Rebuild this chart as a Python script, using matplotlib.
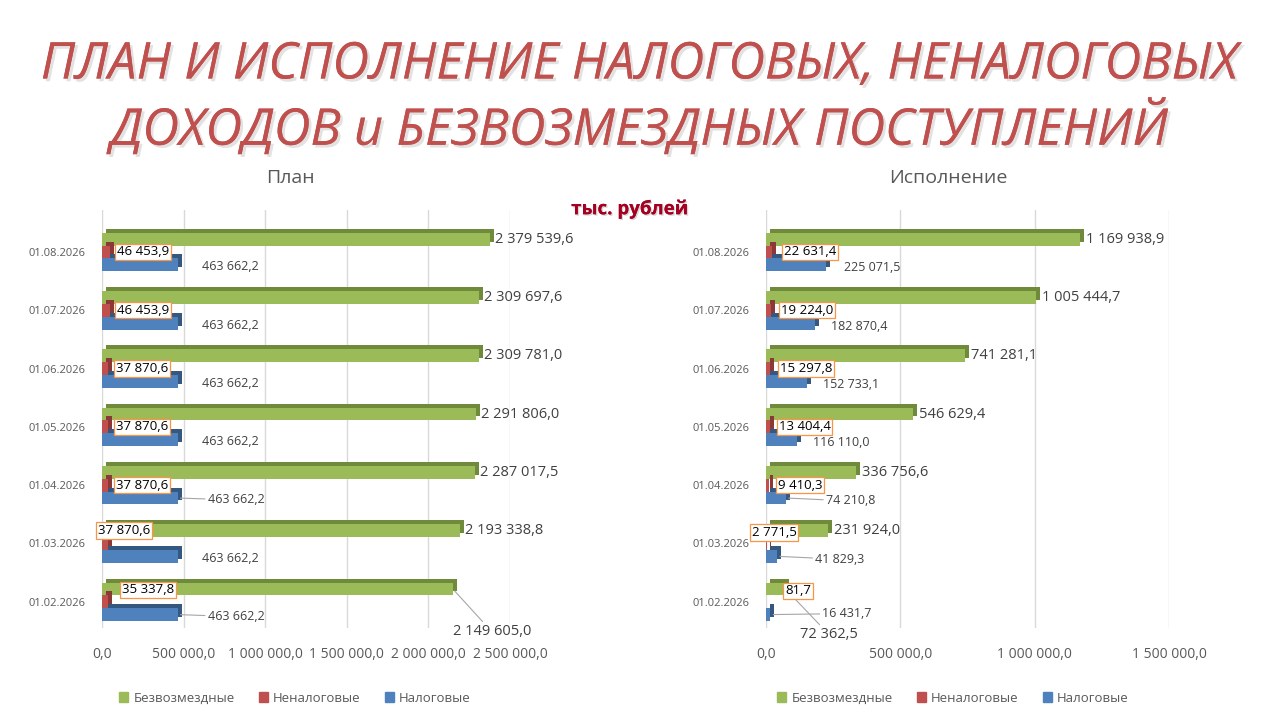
import matplotlib
matplotlib.use("Agg")
import matplotlib.pyplot as plt
import matplotlib.patheffects as pe
from matplotlib.transforms import ScaledTranslation
from matplotlib.patches import Patch
from matplotlib import font_manager

plt.rcParams['font.family'] = ['Open Sans', 'DejaVu Sans']

# ---------------- DATA ----------------
dates = ["01.02.2026", "01.03.2026", "01.04.2026", "01.05.2026",
         "01.06.2026", "01.07.2026", "01.08.2026"]
series_names = ["Безвозмездные", "Неналоговые", "Налоговые"]

plan_bezv = [2149605.0, 2193338.8, 2287017.5, 2291806.0, 2309781.0, 2309697.6, 2379539.6]
plan_nenal = [35337.8, 37870.6, 37870.6, 37870.6, 37870.6, 46453.9, 46453.9]
plan_nal = [463662.2, 463662.2, 463662.2, 463662.2, 463662.2, 463662.2, 463662.2]

isp_bezv = [72362.5, 231924.0, 336756.6, 546629.4, 741281.1, 1005444.7, 1169938.9]
isp_nenal = [81.7, 2771.5, 9410.3, 13404.4, 15297.8, 19224.0, 22631.4]
isp_nal = [16431.7, 41829.3, 74210.8, 116110.0, 152733.1, 182870.4, 225071.5]

plan_ticks = [0, 500000, 1000000, 1500000, 2000000, 2500000]
isp_ticks = [0, 500000, 1000000, 1500000]

# ---------------- STYLE ----------------
C_GREEN, C_GREEN_D = "#9BBB59", "#6F8A3A"
C_RED, C_RED_D = "#C0504D", "#8C3836"
C_BLUE, C_BLUE_D = "#4F81BD", "#34587F"
GRAY = "#595959"

installed = {f.name for f in font_manager.fontManager.ttflist}
if "Liberation Sans Narrow" in installed:
    title_family = ["Liberation Sans Narrow", "Open Sans", "DejaVu Sans"]
    title_size = 42.5
else:
    title_family = ["Open Sans", "DejaVu Sans"]
    title_size = 36.5


def fmt(v):
    s = f"{v:,.1f}".replace(",", " ").replace(".", ",")
    return s


fig = plt.figure(figsize=(12.8, 7.2), dpi=100)
fig.patch.set_facecolor("white")

# Title
title_kw = dict(color="#C0504D", fontsize=title_size, style="italic", ha="center", va="center",
                family=title_family,
                path_effects=[pe.withSimplePatchShadow(offset=(2, -2), shadow_rgbFace="#a0a0a0", alpha=0.3),
                              pe.Normal()])
fig.text(0.5, 1 - 65 / 720, "ПЛАН И ИСПОЛНЕНИЕ НАЛОГОВЫХ, НЕНАЛОГОВЫХ", **title_kw)
fig.text(0.5, 1 - 128 / 720, "ДОХОДОВ и БЕЗВОЗМЕЗДНЫХ ПОСТУПЛЕНИЙ", **title_kw)

fig.text(630 / 1280, 1 - 209 / 720, "тыс. рублей", color="#A50021", fontsize=13.5,
         fontweight="bold", ha="center", va="center",
         path_effects=[pe.withSimplePatchShadow(offset=(1, -1), shadow_rgbFace="#999999", alpha=0.4),
                       pe.Normal()])

BH = 0.22
OFF = 0.22
LEAD = dict(arrowstyle="-", color="#A6A6A6", lw=0.8, shrinkA=0, shrinkB=2)


def panel(rect, title, title_x, xmax, ticks, bezv, nenal, nal, green_off, red_off, blue_off,
          green_lead, red_lead, blue_lead, legend_x):
    ax = fig.add_axes(rect)
    ax.set_xlim(0, xmax)
    ax.set_ylim(-0.45, 6.72)
    y = list(range(len(dates)))
    depth = ScaledTranslation(4 / 100, 4 / 100, fig.dpi_scale_trans)
    for vals, pos, c, cd, z in [(nal, -OFF, C_BLUE, C_BLUE_D, 2), (nenal, 0, C_RED, C_RED_D, 3),
                                (bezv, OFF, C_GREEN, C_GREEN_D, 1)]:
        yy = [v + pos for v in y]
        ax.barh(yy, vals, height=BH, color=cd, transform=ax.transData + depth, zorder=z)
        ax.barh(yy, vals, height=BH, color=c, zorder=z + 0.5)
    ax.set_xticks(ticks)
    ax.set_xticklabels([fmt(t) for t in ticks], color=GRAY, fontsize=10)
    ax.set_yticks(y)
    ax.set_yticklabels(dates, color=GRAY, fontsize=8)
    ax.tick_params(axis="both", length=0)
    ax.tick_params(axis="x", pad=14)
    ax.tick_params(axis="y", pad=12)
    ax.grid(axis="x", color="#D9D9D9", linewidth=1)
    ax.set_axisbelow(True)
    for s in ax.spines.values():
        s.set_visible(False)

    # labels
    for i in range(len(dates)):
        dx, dy = green_off[i]
        ann = dict(arrowprops=LEAD) if green_lead[i] else {}
        ax.annotate(fmt(bezv[i]), xy=(bezv[i], y[i] + OFF), xytext=(dx, dy), textcoords="offset pixels",
                    fontsize=10.5, color="#404040", ha="left", va="center", zorder=10, **ann)
        dx, dy = blue_off[i]
        ann = dict(arrowprops=LEAD) if blue_lead[i] else {}
        ax.annotate(fmt(nal[i]), xy=(nal[i], y[i] - OFF), xytext=(dx, dy), textcoords="offset pixels",
                    fontsize=9, color="#404040", ha="left", va="center", zorder=10, **ann)
        dx, dy = red_off[i]
        ann = dict(arrowprops=LEAD) if red_lead[i] else {}
        ax.annotate(fmt(nenal[i]), xy=(0, y[i]), xytext=(dx, dy), textcoords="offset pixels",
                    fontsize=9.5, color="black", ha="left", va="center", zorder=11,
                    bbox=dict(boxstyle="square,pad=0.12", fc="white", ec="#F79646", lw=0.9), **ann)

    fig.text(title_x / 1280, 1 - 178 / 720, title, fontsize=14, color=GRAY, ha="center", va="center")
    handles = [Patch(color=C_GREEN), Patch(color=C_RED), Patch(color=C_BLUE)]
    fig.legend(handles, series_names, loc="center", bbox_to_anchor=(legend_x / 1280, 1 - 698 / 720),
               ncol=3, frameon=False, fontsize=9.5, labelcolor=GRAY, handlelength=0.7, handleheight=0.7,
               handletextpad=0.4, columnspacing=1.8)
    return ax


# per-category label offsets (pixels), order as dates
plan_green_off = [(0, -43), (5, 0), (5, 0), (5, 0), (5, 0), (5, 0), (5, 0)]
plan_red_off = [(20, 12), (-4, 13), (14, 0), (14, 0), (14, 0), (15, 0), (15, 0)]
plan_blue_off = [(30, -2), (24, -2), (30, -2), (24, -2), (24, -2), (24, -2), (24, -2)]
plan_green_lead = [True, False, False, False, False, False, False]
plan_red_lead = [False] * 7
plan_blue_lead = [True, False, True, False, False, False, False]

isp_green_off = [(15, -46), (6, 0), (6, 0), (6, 0), (6, 0), (6, 0), (6, 0)]
isp_red_off = [(19, 11), (-14, 11), (12, 0), (13, 0), (14, 0), (15, 0), (18, 0)]
isp_blue_off = [(52, 1), (38, -3), (40, -3), (16, -3), (16, -3), (16, -3), (18, -3)]
isp_green_lead = [True, False, False, False, False, False, False]
isp_red_lead = [False] * 7
isp_blue_lead = [True, True, True, False, False, False, False]

panel([102 / 1280, 1 - 628 / 720, 408 / 1280, 418 / 720], "План", 290, 2500000, plan_ticks,
      plan_bezv, plan_nenal, plan_nal, plan_green_off, plan_red_off, plan_blue_off,
      plan_green_lead, plan_red_lead, plan_blue_lead, 295)
panel([766 / 1280, 1 - 628 / 720, 403 / 1280, 418 / 720], "Исполнение", 948, 1500000, isp_ticks,
      isp_bezv, isp_nenal, isp_nal, isp_green_off, isp_red_off, isp_blue_off,
      isp_green_lead, isp_red_lead, isp_blue_lead, 953)

fig.savefig("out.png", dpi=100, facecolor="white")
